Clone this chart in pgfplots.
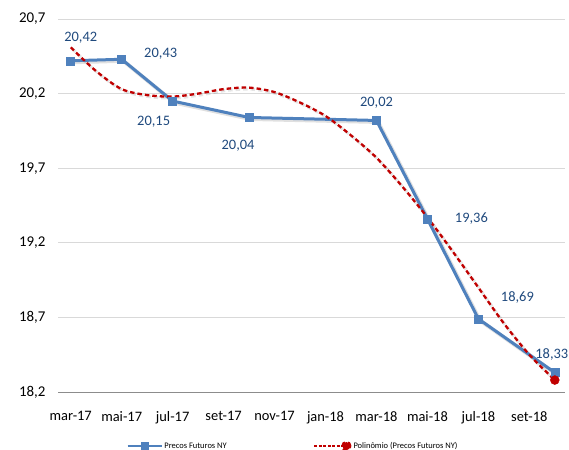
\documentclass[border=0pt]{standalone}
\usepackage{pgfplots}
\pgfplotsset{compat=1.18}
\usepackage{pgfplotstable}
\usepackage{fontspec}
\setmainfont{Carlito}
\definecolor{serieblue}{HTML}{4F81BD}
\definecolor{labelblue}{HTML}{1F497D}
\definecolor{trendred}{HTML}{C00000}
\definecolor{gridgray}{HTML}{D9D9D9}
\definecolor{axisgray}{HTML}{8C8C8C}

% x = months since mar-17
\pgfplotstableread{
x y dx dy
0 20.42 10 23
2 20.43 39 6
4 20.15 -19 -21
7 20.04 -11 -28
12 20.02 0 18
14 19.36 44 0
16 18.69 39 21
19 18.33 -3 18
}\futuros

\pgfplotstableread{
x y
0 20.51
1 20.35
2 20.23
3 20.19
4 20.18
5 20.20
6 20.23
7 20.24
8 20.21
9 20.14
10 20.05
11 19.92
12 19.77
13 19.58
14 19.37
15 19.14
16 18.90
17 18.66
18 18.45
19 18.28
}\polinomio

\begin{document}
\begin{tikzpicture}
\path[use as bounding box] (0,0) rectangle (569bp,450bp);
\begin{axis}[
  at={(58bp,58bp)}, anchor=south west,
  scale only axis, width=507bp, height=373bp,
  xmin=-0.5, xmax=19.4, ymin=18.2, ymax=20.7,
  xtick={0,2,4,6,8,10,12,14,16,18},
  xticklabels={mar-17,mai-17,jul-17,set-17,nov-17,jan-18,mar-18,mai-18,jul-18,set-18},
  ytick={18.2,18.7,19.2,19.7,20.2,20.7},
  yticklabel={\pgfmathprintnumber[fixed,fixed zerofill,precision=1,use comma,assume math mode=true]{\tick}},
  yticklabel style={font=\fontsize{15}{17}\selectfont, xshift=-9bp},
  xticklabel style={font=\fontsize{14.5}{17}\selectfont, yshift=-16bp},
  major tick length=0pt,
  axis x line*=bottom, axis y line*=left,
  x axis line style={draw=axisgray, line width=1bp, -},
  y axis line style={draw=none},
  ymajorgrids, grid style={draw=gridgray, line width=0.8bp},
  legend columns=2,
  legend cell align=left,
  legend style={at={(0.464,-0.145)}, anchor=center, draw=none, fill=none,
    font=\fontsize{8.5}{10}\selectfont,
    /tikz/every even column/.append style={column sep=85bp}},
  clip=false,
]
% shadows
\addplot[black, opacity=0.12, line width=4bp, shift={(1.5bp,-1.5bp)}, forget plot] table[x=x,y=y] {\futuros};
\addplot[black, opacity=0.10, line width=3bp, dash pattern=on 4.5bp off 3bp, shift={(1.5bp,-1.5bp)}, smooth, forget plot] table[x=x,y=y] {\polinomio};
% main series
\addplot[serieblue, line width=3bp, mark=square*, mark size=4bp,
  mark options={fill=serieblue, draw=serieblue, line width=0.5bp},
  nodes near coords={\pgfmathprintnumber[fixed,fixed zerofill,precision=2,use comma,assume math mode=true]{\pgfplotspointmeta}},
  visualization depends on={\thisrow{dx} \as \dx},
  visualization depends on={\thisrow{dy} \as \dy},
  every node near coord/.append style={anchor=center, xshift=\dx bp, yshift=\dy bp,
    text=labelblue, font=\fontsize{14.5}{17}\selectfont},
  legend image code/.code={
    \draw[serieblue, line width=1.5bp] (0bp,0bp) -- (34bp,0bp);
    \fill[serieblue] (14.5bp,-2.5bp) rectangle (19.5bp,2.5bp);}
] table[x=x,y=y] {\futuros};
\addlegendentry{Precos Futuros NY}
\addplot[trendred, line width=2.3bp, dash pattern=on 4.5bp off 3bp, smooth,
  legend image code/.code={
    \draw[trendred, line width=1.2bp, dash pattern=on 3bp off 1.5bp] (0bp,0bp) -- (32bp,0bp);
    \fill[trendred] (32bp,0bp) circle (4bp);}
] table[x=x,y=y] {\polinomio};
\addlegendentry{Polinômio (Precos Futuros NY)}
\addplot[only marks, mark=*, mark size=4.5bp, trendred, forget plot] coordinates {(19,18.28)};
\end{axis}
\end{tikzpicture}
\end{document}
